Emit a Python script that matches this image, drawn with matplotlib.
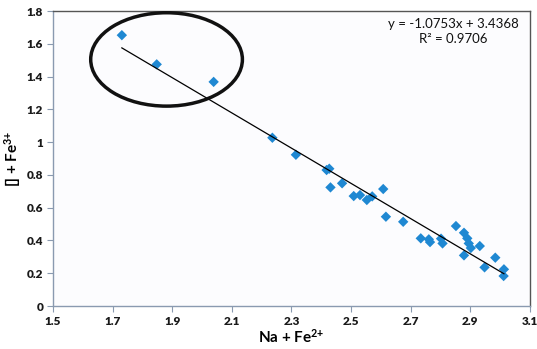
import matplotlib
matplotlib.use("Agg")
import matplotlib.pyplot as plt
from matplotlib.patches import Ellipse
import numpy as np

x_vals = [1.731, 1.848, 2.039, 2.236, 2.315, 2.418, 2.427, 2.431, 2.470, 2.509,
          2.530, 2.553, 2.571, 2.608, 2.617, 2.675, 2.734, 2.761, 2.765, 2.802,
          2.807, 2.852, 2.879, 2.890, 2.895, 2.902, 2.879, 2.932, 2.948, 2.984,
          3.013, 3.012]
y_vals = [1.653, 1.475, 1.368, 1.027, 0.923, 0.830, 0.838, 0.724, 0.749, 0.671,
          0.677, 0.647, 0.669, 0.714, 0.545, 0.514, 0.413, 0.407, 0.390, 0.411,
          0.382, 0.488, 0.447, 0.413, 0.382, 0.354, 0.309, 0.366, 0.236, 0.295,
          0.224, 0.183]
slope = -1.0753
intercept = 3.4368
r2 = 0.9706
x_ticks = [1.5, 1.7, 1.9, 2.1, 2.3, 2.5, 2.7, 2.9, 3.1]
y_ticks = [0, 0.2, 0.4, 0.6, 0.8, 1, 1.2, 1.4, 1.6, 1.8]
x_ticklabels = ["1.5", "1.7", "1.9", "2.1", "2.3", "2.5", "2.7", "2.9", "3.1"]
y_ticklabels = ["0", "0.2", "0.4", "0.6", "0.8", "1", "1.2", "1.4", "1.6", "1.8"]

plt.rcParams['font.family'] = ['Lato', 'DejaVu Sans']
plt.rcParams['mathtext.fontset'] = 'custom'
plt.rcParams['mathtext.rm'] = 'Lato:bold'
plt.rcParams['mathtext.bf'] = 'Lato:bold'
plt.rcParams['mathtext.default'] = 'bf'

fig = plt.figure(figsize=(5.37, 3.49), dpi=100)
fig.patch.set_facecolor('white')
ax = fig.add_axes([0.0987, 0.1232, 0.888, 0.845])
ax.set_facecolor('#fcfcfe')

ax.scatter(x_vals, y_vals, marker='D', s=28, color='#1f88d2', edgecolors='none', zorder=3)

xl = np.array([min(x_vals), max(x_vals)])
ax.plot(xl, slope * xl + intercept, color='black', lw=0.9, zorder=4)

ell = Ellipse((1.881, 1.505), 0.509, 0.57, fill=False, edgecolor='#111111', lw=2.5, zorder=5)
ax.add_patch(ell)

ax.set_xlim(1.5, 3.1)
ax.set_ylim(0, 1.8)
ax.set_xticks(x_ticks)
ax.set_xticklabels(x_ticklabels, fontweight='heavy')
ax.set_yticks(y_ticks)
ax.set_yticklabels(y_ticklabels, fontweight='heavy')
ax.tick_params(direction='out', length=4, width=0.8, color='#8a9ab0',
               labelsize=8.5, pad=3, labelcolor='#1a1a1a')

for s in ['left', 'bottom']:
    ax.spines[s].set_color('#8a9ab0')
    ax.spines[s].set_linewidth(1.0)
for s in ['top', 'right']:
    ax.spines[s].set_color('#555555')
    ax.spines[s].set_linewidth(1.0)

ax.set_xlabel('Na + Fe$^{2{+}}$', fontsize=11, fontweight='bold', labelpad=1)
ax.set_ylabel('[] + Fe$^{3{+}}$', fontsize=11, fontweight='bold', labelpad=3)

ax.text(0.84, 0.975, 'y = -1.0753x + 3.4368\nR² = 0.9706', transform=ax.transAxes,
        ha='center', va='top', fontsize=9.5, color='#111111', linespacing=1.3)

fig.savefig('out.png', dpi=100)
